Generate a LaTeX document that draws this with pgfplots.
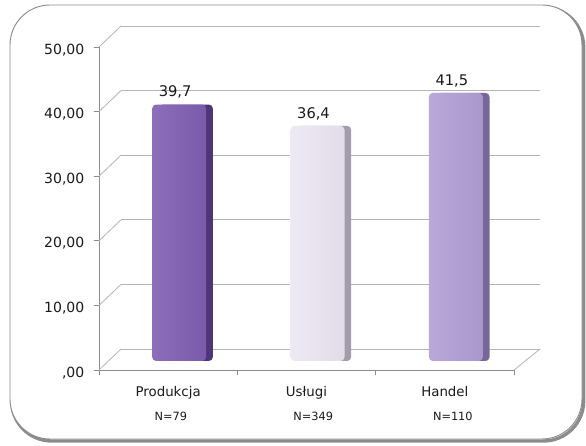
\documentclass[border=0pt]{standalone}
\usepackage{fontspec}
\setmainfont{DejaVu Sans}
\usepackage{pgfplots}
\pgfplotsset{compat=1.18}
\definecolor{prodF}{HTML}{7A5AAA}
\definecolor{prodL}{HTML}{8C6EBB}
\definecolor{prodS}{HTML}{4E3478}
\definecolor{uslF}{HTML}{E2DBEA}
\definecolor{uslL}{HTML}{EEEAF4}
\definecolor{uslS}{HTML}{A39DAB}
\definecolor{hanF}{HTML}{AA96CC}
\definecolor{hanL}{HTML}{BAA8D9}
\definecolor{hanS}{HTML}{786696}
\definecolor{gridc}{HTML}{B4B4B4}
\definecolor{axc}{HTML}{8C8C8C}
\definecolor{txt}{HTML}{1A1A1A}
\begin{document}
\begin{tikzpicture}
\useasboundingbox (0,0) rectangle (439.5pt,334.5pt);
% frame with shadow
\draw[line width=2.5pt, black!45, rounded corners=30pt] (8.75pt,3.75pt) rectangle (437.75pt,329.25pt);
\draw[fill=white, draw=black!45, line width=0.7pt, rounded corners=30pt] (7.5pt,5.25pt) rectangle (436.5pt,330.75pt);

% back wall grid
\begin{axis}[
  at={(90.75pt,72.75pt)}, anchor=south west,
  width=314.25pt, height=242.25pt, scale only axis,
  xmin=0, xmax=1, ymin=0, ymax=50,
  xtick=\empty, ytick={0,10,...,50}, yticklabels={},
  major tick length=0pt,
  ymajorgrids, major grid style={gridc, line width=0.6pt},
  axis line style={draw=none},
]
\end{axis}

% bars (mid depth)
\begin{axis}[
  at={(82.5pt,63.75pt)}, anchor=south west,
  width=311.25pt, height=242.25pt, scale only axis,
  xmin=-0.5, xmax=2.5, ymin=0, ymax=50,
  hide axis, clip=false,
  every node near coord/.append style={font=\fontsize{11}{13}\selectfont, text=txt, xshift=-3pt, yshift=1pt},
]
\addplot[ybar, bar width=40.5pt, bar shift=5pt, fill=prodS, draw=none, rounded corners=3pt] coordinates {(0,39.7)};
\addplot[ybar, bar width=40.5pt, bar shift=0pt, left color=prodL, right color=prodF, draw=none, rounded corners=3pt,
  nodes near coords={\pgfmathprintnumber[fixed,fixed zerofill,precision=1,use comma,assume math mode=true]{\pgfplotspointmeta}}] coordinates {(0,39.7)};
\addplot[ybar, bar width=40.5pt, bar shift=5pt, fill=uslS, draw=none, rounded corners=3pt] coordinates {(1,36.4)};
\addplot[ybar, bar width=40.5pt, bar shift=0pt, left color=uslL, right color=uslF, draw=none, rounded corners=3pt,
  nodes near coords={\pgfmathprintnumber[fixed,fixed zerofill,precision=1,use comma,assume math mode=true]{\pgfplotspointmeta}}] coordinates {(1,36.4)};
\addplot[ybar, bar width=40.5pt, bar shift=5pt, fill=hanS, draw=none, rounded corners=3pt] coordinates {(2,41.5)};
\addplot[ybar, bar width=40.5pt, bar shift=0pt, left color=hanL, right color=hanF, draw=none, rounded corners=3pt,
  nodes near coords={\pgfmathprintnumber[fixed,fixed zerofill,precision=1,use comma,assume math mode=true]{\pgfplotspointmeta}}] coordinates {(2,41.5)};
\end{axis}

% front axis
\begin{axis}[
  at={(74.25pt,57pt)}, anchor=south west,
  width=311.25pt, height=242.25pt, scale only axis,
  xmin=-0.5, xmax=2.5, ymin=0, ymax=50,
  axis lines*=left,
  axis line style={axc, line width=0.7pt},
  tick style={axc, line width=0.7pt},
  tick align=outside, major tick length=4pt,
  ytick={0,10,...,50},
  yticklabels={{,00},{10,00},{20,00},{30,00},{40,00},{50,00}},
  yticklabel style={font=\fontsize{10.5}{12}\selectfont, text=txt, xshift=-3.5pt, yshift=-2pt},
  xtick={-0.5,0.5,1.5,2.5}, xticklabels={},
  extra x ticks={0,1,2},
  extra x tick labels={{Produkcja\\[6.5pt]{\fontsize{8.5}{10}\selectfont\hspace*{4pt}N=79}},{Usługi\\[6.5pt]{\fontsize{8.5}{10}\selectfont\hspace*{10pt}N=349}},{Handel\\[6.5pt]{\fontsize{8.5}{10}\selectfont\hspace*{12pt}N=110}}},
  extra x tick style={major tick length=0pt, tick label style={align=center, font=\fontsize{10}{12}\selectfont, text=txt, yshift=-8.5pt}},
  clip=false,
]
\pgfplotsinvokeforeach{0,10,20,30,40,50}{
  \draw[gridc, line width=0.6pt] (axis cs:-0.5,#1) -- ++(16.5pt,15.75pt);
}
\draw[gridc, line width=0.6pt] (axis cs:2.5,0) -- ++(19.5pt,15.75pt);
\end{axis}
\end{tikzpicture}
\end{document}
